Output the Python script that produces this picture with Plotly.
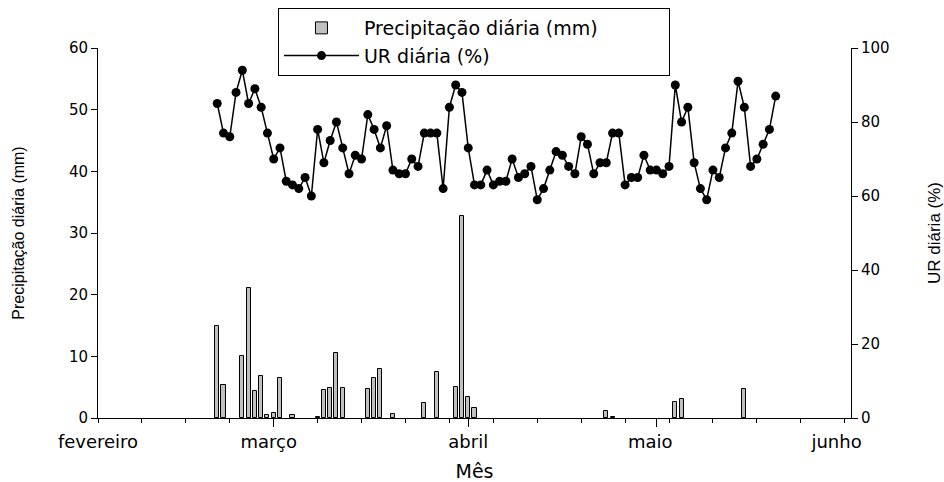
import plotly.graph_objects as go

# Days counted from 1 February (day 0 = 1 fev, 28 = 1 mar, 59 = 1 abr, 89 = 1 mai, 120 = 1 jun)
dias_chuva = [19, 20, 23, 24, 25, 26, 27, 28, 29, 31, 35, 36, 37, 38, 39, 43, 44, 45, 47,
              52, 54, 57, 58, 59, 60, 81, 82, 92, 93, 103]
precipitacao = [15.0, 5.4, 10.1, 21.1, 4.3, 6.8, 0.5, 0.8, 6.5, 0.55, 0.2, 4.6, 4.9, 10.6, 4.9,
                4.7, 6.5, 8.0, 0.65, 2.4, 7.4, 5.0, 32.7, 3.4, 1.7, 1.1, 0.15, 2.6, 3.1, 4.7]

dias_ur = list(range(19, 109))
ur = [85, 77, 76, 88, 94, 85, 89, 84, 77, 70, 73, 64, 63, 62, 65, 60, 78, 69, 75, 80,
      73, 66, 71, 70, 82, 78, 73, 79, 67, 66, 66, 70, 68, 77, 77, 77, 62, 84, 90, 88,
      73, 63, 63, 67, 63, 64, 64, 70, 65, 66, 68, 59, 62, 67, 72, 71, 68, 66, 76, 74,
      66, 69, 69, 77, 77, 63, 65, 65, 71, 67, 67, 66, 68, 90, 80, 84, 69, 62, 59, 67,
      65, 73, 77, 91, 84, 68, 70, 74, 78, 87]

meses = ["fevereiro", "março", "abril", "maio", "junho"]
pos_rotulos = [0, 27.2, 59, 88, 117.7]
inicio_meses = [28, 59, 89]
semanas = list(range(0, 121, 7))

FONT = "DejaVu Sans, Verdana, sans-serif"
FONT_V = "Liberation Sans, Arial, sans-serif"

fig = go.Figure()
fig.add_bar(x=dias_chuva, y=precipitacao, name="Precipitação diária (mm)",
            marker=dict(color="#c0c0c0", line=dict(color="black", width=1)),
            width=0.65, xaxis="x", yaxis="y")
fig.add_scatter(x=dias_ur, y=ur, mode="lines+markers", name="UR diária (%)",
                line=dict(color="black", width=1.5),
                marker=dict(size=9, color="black"), xaxis="x", yaxis="y2")
# helper (invisible) traces so overlay tick axes are rendered
fig.add_scatter(x=[0], y=[0], xaxis="x2", yaxis="y", mode="markers",
                marker=dict(opacity=0), showlegend=False, hoverinfo="skip")
fig.add_scatter(x=[0], y=[0], xaxis="x3", yaxis="y", mode="markers",
                marker=dict(opacity=0), showlegend=False, hoverinfo="skip")

rng = [0, 120]
fig.update_layout(
    width=944, height=482,
    margin=dict(l=98, r=93, t=48, b=64, autoexpand=False),
    paper_bgcolor="white", plot_bgcolor="white",
    font=dict(family=FONT, color="black", size=15),
    bargap=0,
    showlegend=True,
    legend=dict(x=0.239, y=1.108, xanchor="left", yanchor="top",
                orientation="h", entrywidth=300, entrywidthmode="pixels",
                itemwidth=75,
                bordercolor="black", borderwidth=1, bgcolor="white",
                font=dict(size=19, family=FONT), traceorder="normal"),
    xaxis=dict(range=rng, tickmode="array", tickvals=pos_rotulos, ticktext=meses,
               ticks="", showline=True, linecolor="black", linewidth=1,
               showgrid=False, zeroline=False, tickfont=dict(size=18),
               ticklabelstandoff=7,
               title=dict(text="Mês", font=dict(size=19), standoff=16)),
    xaxis2=dict(range=rng, overlaying="x", anchor="y", side="bottom",
                tickmode="array", tickvals=semanas, ticks="outside", ticklen=4,
                tickcolor="black", showticklabels=False, showline=False,
                showgrid=False, zeroline=False),
    xaxis3=dict(range=rng, overlaying="x", anchor="y", side="bottom",
                tickmode="array", tickvals=inicio_meses, ticks="outside", ticklen=8,
                tickcolor="black", showticklabels=False, showline=False,
                showgrid=False, zeroline=False),
    yaxis=dict(range=[0, 60], tickmode="linear", tick0=0, dtick=10,
               ticks="outside", ticklen=6, tickcolor="black",
               showline=True, linecolor="black", linewidth=1,
               showgrid=False, zeroline=False, tickfont=dict(size=15),
               title=dict(text="Precipitação diária (mm)",
                          font=dict(size=16, family=FONT_V), standoff=40)),
    yaxis2=dict(range=[0, 100], tickmode="linear", tick0=0, dtick=20,
                overlaying="y", side="right", anchor="x",
                ticks="outside", ticklen=6, tickcolor="black",
                showline=True, linecolor="black", linewidth=1,
                showgrid=False, zeroline=False, tickfont=dict(size=15),
                title=dict(text="UR diária (%)",
                           font=dict(size=17, family=FONT_V), standoff=42)),
)
for ax in ["xaxis", "xaxis2", "xaxis3", "yaxis", "yaxis2"]:
    fig.layout[ax].automargin = False

fig.write_html("out.html", config={"displayModeBar": False},
               post_script="document.body.style.margin='0px';")
